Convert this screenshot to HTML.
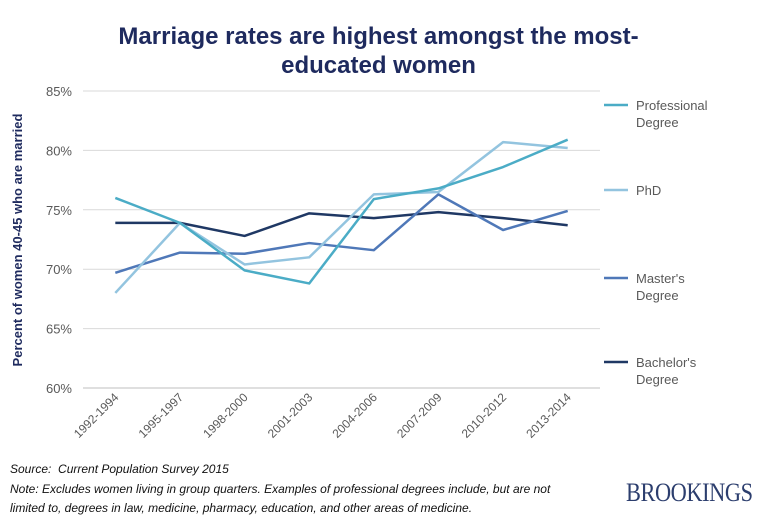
<!DOCTYPE html>
<html><head><meta charset="utf-8"><style>
body{margin:0;background:#fff;width:757px;height:527px;overflow:hidden;font-family:"Liberation Sans",sans-serif}
.title{position:absolute;left:0;width:757px;top:22px;text-align:center;color:#1e2a5e;font-weight:bold;font-size:24px;line-height:29px}
.foot{position:absolute;left:10px;font-style:italic;font-size:12px;color:#111;line-height:19px}
.brk{position:absolute;left:626px;top:478px;font-family:"Liberation Serif",serif;font-size:26px;color:#2c3e6e;letter-spacing:-0.5px;transform:scaleX(0.86);transform-origin:left}
</style></head><body>
<div class="title">Marriage rates are highest amongst the most-<br>educated women</div>
<svg id="c" width="757" height="527" style="position:absolute;left:0;top:0"></svg>
<div class="foot" style="top:460px">Source:&nbsp; Current Population Survey 2015</div>
<div class="foot" style="top:480px">Note: Excludes women living in group quarters. Examples of professional degrees include, but are not<br>limited to, degrees in law, medicine, pharmacy, education, and other areas of medicine.</div>
<div class="brk">BROOKINGS</div>
<script>
const categories=["1992-1994","1995-1997","1998-2000","2001-2003","2004-2006","2007-2009","2010-2012","2013-2014"];
const professional=[76.0,73.9,69.9,68.8,75.9,76.8,78.6,80.9];
const phd=[68.0,73.9,70.4,71.0,76.3,76.5,80.7,80.2];
const masters=[69.7,71.4,71.3,72.2,71.6,76.3,73.3,74.9];
const bachelors=[73.9,73.9,72.8,74.7,74.3,74.8,74.3,73.7];
const yTicks=[60,65,70,75,80,85];
const series=[
 {name:"Professional Degree",lines:["Professional","Degree"],data:professional,color:"#4bacc6",ly:105},
 {name:"PhD",lines:["PhD"],data:phd,color:"#93c4df",ly:190},
 {name:"Master's Degree",lines:["Master's","Degree"],data:masters,color:"#4f78b8",ly:278},
 {name:"Bachelor's Degree",lines:["Bachelor's","Degree"],data:bachelors,color:"#1f3864",ly:362}];
const L=83,R=600,T=91,B=388,ymin=60,ymax=85;
const band=(R-L)/categories.length;
const x=i=>L+band*(i+0.5);
const y=v=>B-(v-ymin)/(ymax-ymin)*(B-T);
const s=document.getElementById('c'),NS="http://www.w3.org/2000/svg";
function el(t,a,p){const e=document.createElementNS(NS,t);for(const k in a)e.setAttribute(k,a[k]);(p||s).appendChild(e);return e;}
yTicks.forEach(v=>{
 const g=el('line',{x1:L,x2:R,y1:y(v),y2:y(v),stroke:v==60?'#bfbfbf':'#d9d9d9','stroke-width':1});
 
 
 const t=el('text',{x:72,y:y(v)+5,'text-anchor':'end','font-size':13,fill:'#595959'});
 t.textContent=v+'%';
 
 
});
categories.forEach((c,i)=>{
 const t=el('text',{transform:`translate(${x(i)+4},398) rotate(-45)`,'text-anchor':'end','font-size':12,fill:'#595959'});
 t.textContent=c;
 
 
});
const yt=el('text',{transform:'translate(22,240) rotate(-90)','text-anchor':'middle','font-size':13,'font-weight':'bold',fill:'#1e2a5e'});
yt.textContent='Percent of women 40-45 who are married';


[...series].reverse().forEach(sr=>{
 const p=el('polyline',{points:sr.data.map((v,i)=>x(i)+','+y(v)).join(' '),fill:'none',stroke:sr.color,'stroke-width':2.5,'stroke-linejoin':'round'});
 
 
});
series.forEach(sr=>{
 const g=el('g',{});
 
 
 el('line',{x1:604,x2:628,y1:sr.ly,y2:sr.ly,stroke:sr.color,'stroke-width':2.5},g);
 sr.lines.forEach((ln,j)=>{const t=el('text',{x:636,y:sr.ly+5+j*17,'font-size':13,fill:'#595959'},g);t.textContent=ln;});
});
</script>
</body></html>
